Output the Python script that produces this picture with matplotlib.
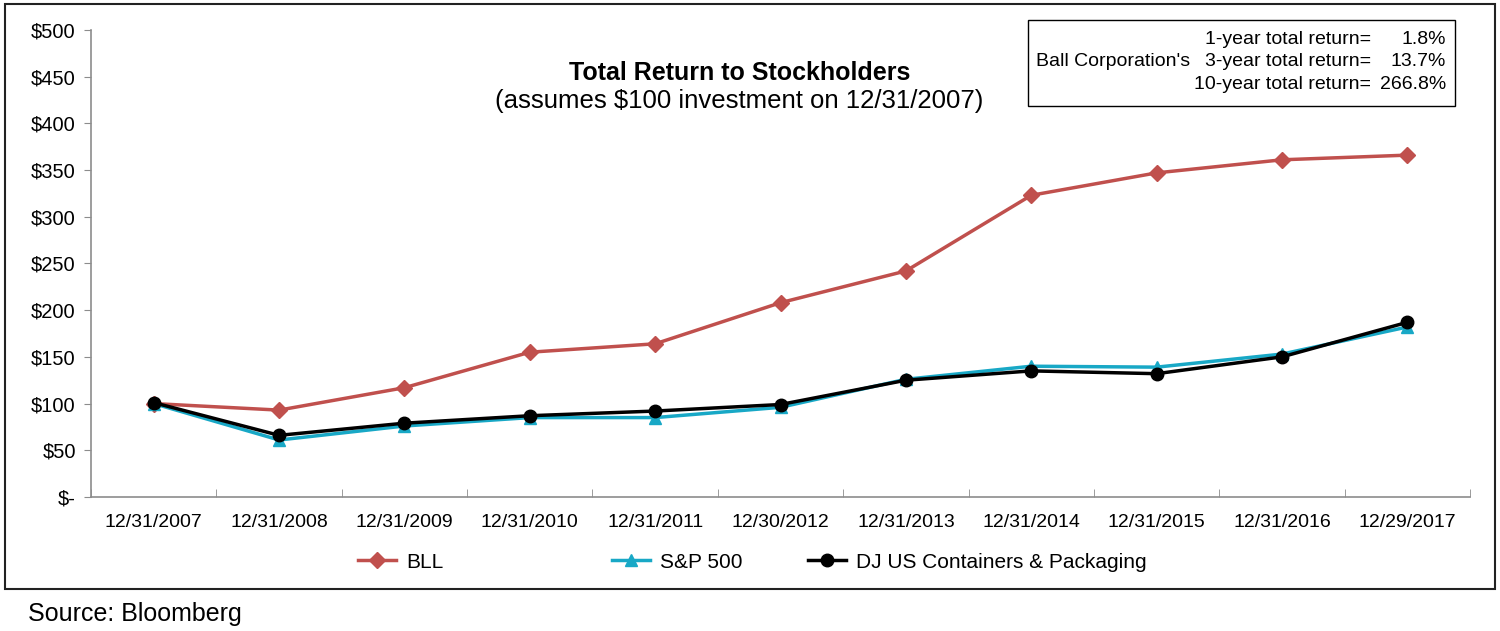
import matplotlib
matplotlib.use("Agg")
import matplotlib.pyplot as plt
from matplotlib.patches import Rectangle
from matplotlib.ticker import FixedLocator

plt.rcParams['font.family'] = ['Liberation Sans', 'DejaVu Sans']

# datos
fechas = ['12/31/2007', '12/31/2008', '12/31/2009', '12/31/2010', '12/31/2011',
          '12/30/2012', '12/31/2013', '12/31/2014', '12/31/2015', '12/31/2016',
          '12/29/2017']
bll = [100, 93, 117, 155, 164, 208, 242, 323, 347, 361, 366]
sp500 = [100, 61, 76, 85, 85, 96, 126, 140, 139, 153, 182]
dj_containers = [101, 66, 79, 87, 92, 99, 125, 135, 132, 150, 187]

y_ticks = [0, 50, 100, 150, 200, 250, 300, 350, 400, 450, 500]
y_labels = ['$-'] + [f'${v}' for v in y_ticks[1:]]

retornos_label = ['1-year total return=', '3-year total return=', '10-year total return=']
retornos_valor = ['1.8%', '13.7%', '266.8%']

rojo = '#C0504D'
cian = '#18A8C6'
gris = '#8c8c8c'

fig = plt.figure(figsize=(15, 6.31), dpi=100)
ax = fig.add_axes([0.0607, 0.2124, 0.9193, 0.7401])

x = list(range(len(fechas)))
l_bll, = ax.plot(x, bll, color=rojo, lw=2.5, marker='D', ms=8, label='BLL', zorder=3)
l_sp, = ax.plot(x, sp500, color=cian, lw=2.5, marker='^', ms=9, label='S&P 500', zorder=4)
l_dj, = ax.plot(x, dj_containers, color='black', lw=2.5, marker='o', ms=9,
                label='DJ US Containers & Packaging', zorder=5)

ax.set_xlim(-0.5, len(fechas) - 0.5)
ax.set_ylim(0, 500)
ax.set_yticks(y_ticks)
ax.set_yticklabels(y_labels, fontsize=14.5)
ax.set_xticks(x)
ax.set_xticklabels(fechas, fontsize=14)
ax.xaxis.set_minor_locator(FixedLocator([i - 0.5 for i in range(len(fechas) + 1)]))
ax.tick_params(axis='x', which='major', length=0, pad=12)
ax.tick_params(axis='x', which='minor', length=6, color=gris, direction='in')
ax.tick_params(axis='y', length=5, color=gris, pad=6)

for lado in ['top', 'right']:
    ax.spines[lado].set_visible(False)
for lado in ['left', 'bottom']:
    ax.spines[lado].set_color(gris)
    ax.spines[lado].set_linewidth(1.2)

# titulo
fig.text(0.493, 0.885, 'Total Return to Stockholders', ha='center', va='center',
         fontsize=18, fontweight='bold')
fig.text(0.493, 0.840, '(assumes $100 investment on 12/31/2007)', ha='center',
         va='center', fontsize=18.5)

# caja de retornos
fig.patches.append(Rectangle((0.685, 0.832), 0.285, 0.137, transform=fig.transFigure,
                             fill=False, edgecolor='black', lw=1))
fig.text(0.691, 0.902, "Ball Corporation's", ha='left', va='center', fontsize=14)
for i, (lab, val) in enumerate(zip(retornos_label, retornos_valor)):
    yy = 0.938 - i * 0.036
    fig.text(0.914, yy, lab, ha='right', va='center', fontsize=14)
    fig.text(0.964, yy, val, ha='right', va='center', fontsize=14)

# marco exterior
fig.patches.append(Rectangle((0.0035, 0.066), 0.993, 0.927, transform=fig.transFigure,
                             fill=False, edgecolor='#222222', lw=1.5))

# leyendas separadas para respetar posiciones
for linea, xpos in [(l_bll, 0.2387), (l_sp, 0.408), (l_dj, 0.5387)]:
    fig.legend(handles=[linea], loc='center left', bbox_to_anchor=(xpos, 0.109),
               frameon=False, fontsize=15, handlelength=1.8, handletextpad=0.5,
               borderaxespad=0, borderpad=0)

fig.text(0.019, 0.027, 'Source: Bloomberg', ha='left', va='center', fontsize=18)

plt.savefig('out.png', dpi=100)
plt.close()
